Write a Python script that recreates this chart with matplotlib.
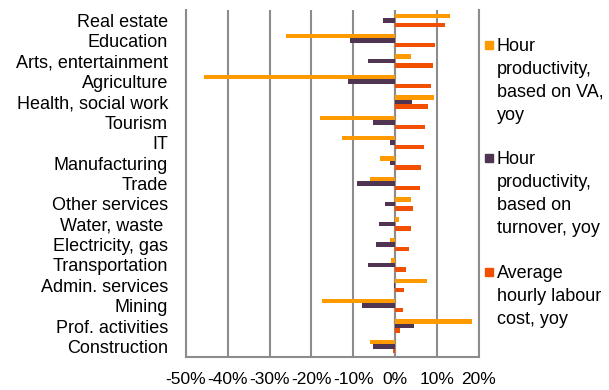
import numpy as np
import matplotlib.pyplot as plt
from matplotlib.patches import Rectangle

plt.rcParams['font.family'] = ['Liberation Sans', 'DejaVu Sans']

# sectors, top to bottom
sectors = ['Real estate', 'Education', 'Arts, entertainment', 'Agriculture',
           'Health, social work', 'Tourism', 'IT', 'Manufacturing', 'Trade',
           'Other services', 'Water, waste ', 'Electricity, gas', 'Transportation',
           'Admin. services', 'Mining', 'Prof. activities', 'Construction']

# yoy changes in %
prod_va = [13.1, -26.0, 3.9, -45.8, 9.3, -18.0, -12.8, -3.7, -6.1,
           3.7, 0.9, -1.3, -1.0, 7.7, -17.5, 18.5, -6.1]
prod_turnover = [-3.0, -10.7, -6.5, -11.2, 4.1, -5.3, -1.1, -1.1, -9.2,
                 -2.5, -3.8, -4.5, -6.5, -0.3, -8.0, 4.6, -5.3]
labour_cost = [12.0, 9.6, 9.1, 8.5, 8.0, 7.2, 6.9, 6.3, 5.9,
               4.3, 3.7, 3.4, 2.5, 2.2, 1.9, 1.3, -0.5]

series_names = ['Hour\nproductivity,\nbased on VA,\nyoy',
                'Hour\nproductivity,\nbased on\nturnover, yoy',
                'Average\nhourly labour\ncost, yoy']
colors = ['#ff9900', '#4f3552', '#f25000']

W, H = 609, 390
fig = plt.figure(figsize=(W / 100, H / 100), dpi=100)
ax = fig.add_axes([0.3054, 0.0854, 0.4806, 0.8886])

y = np.arange(len(sectors))
h = 0.22
for k, vals in enumerate([prod_va, prod_turnover, labour_cost]):
    ax.barh(y + (k - 1) * h, vals, height=h, color=colors[k], zorder=3)

ax.set_xlim(-50, 20)
ax.set_ylim(len(sectors) - 0.5, -0.5)
ax.set_xticks(np.arange(-50, 21, 10))
ax.set_xticklabels([f'{v}%' for v in range(-50, 21, 10)], fontsize=12.5)
ax.set_yticks(y)
ax.set_yticklabels(sectors, fontsize=13)
ax.tick_params(axis='y', length=0, pad=13)
ax.tick_params(axis='x', length=0, pad=11)
ax.grid(axis='x', color='#8c8c8c', linewidth=1.5, zorder=1)
ax.axvline(0, color='#8c8c8c', linewidth=1.5, zorder=2)
for side in ['left', 'bottom', 'right']:
    ax.spines[side].set_color('#8c8c8c')
    ax.spines[side].set_linewidth(1.5)
ax.spines['top'].set_visible(False)

# legend drawn by hand so the square sits beside the first line
first_line = [45, 158, 272]
for name, c, ly in zip(series_names, colors, first_line):
    fig.patches.append(Rectangle((485 / W, 1 - (ly + 4) / H), 8 / W, 8 / H,
                                 transform=fig.transFigure, color=c))
    fig.text(497 / W, 1 - (ly - 7) / H, name, fontsize=13, va='top', ha='left',
             linespacing=1.45)

fig.savefig('out.png', dpi=100)
